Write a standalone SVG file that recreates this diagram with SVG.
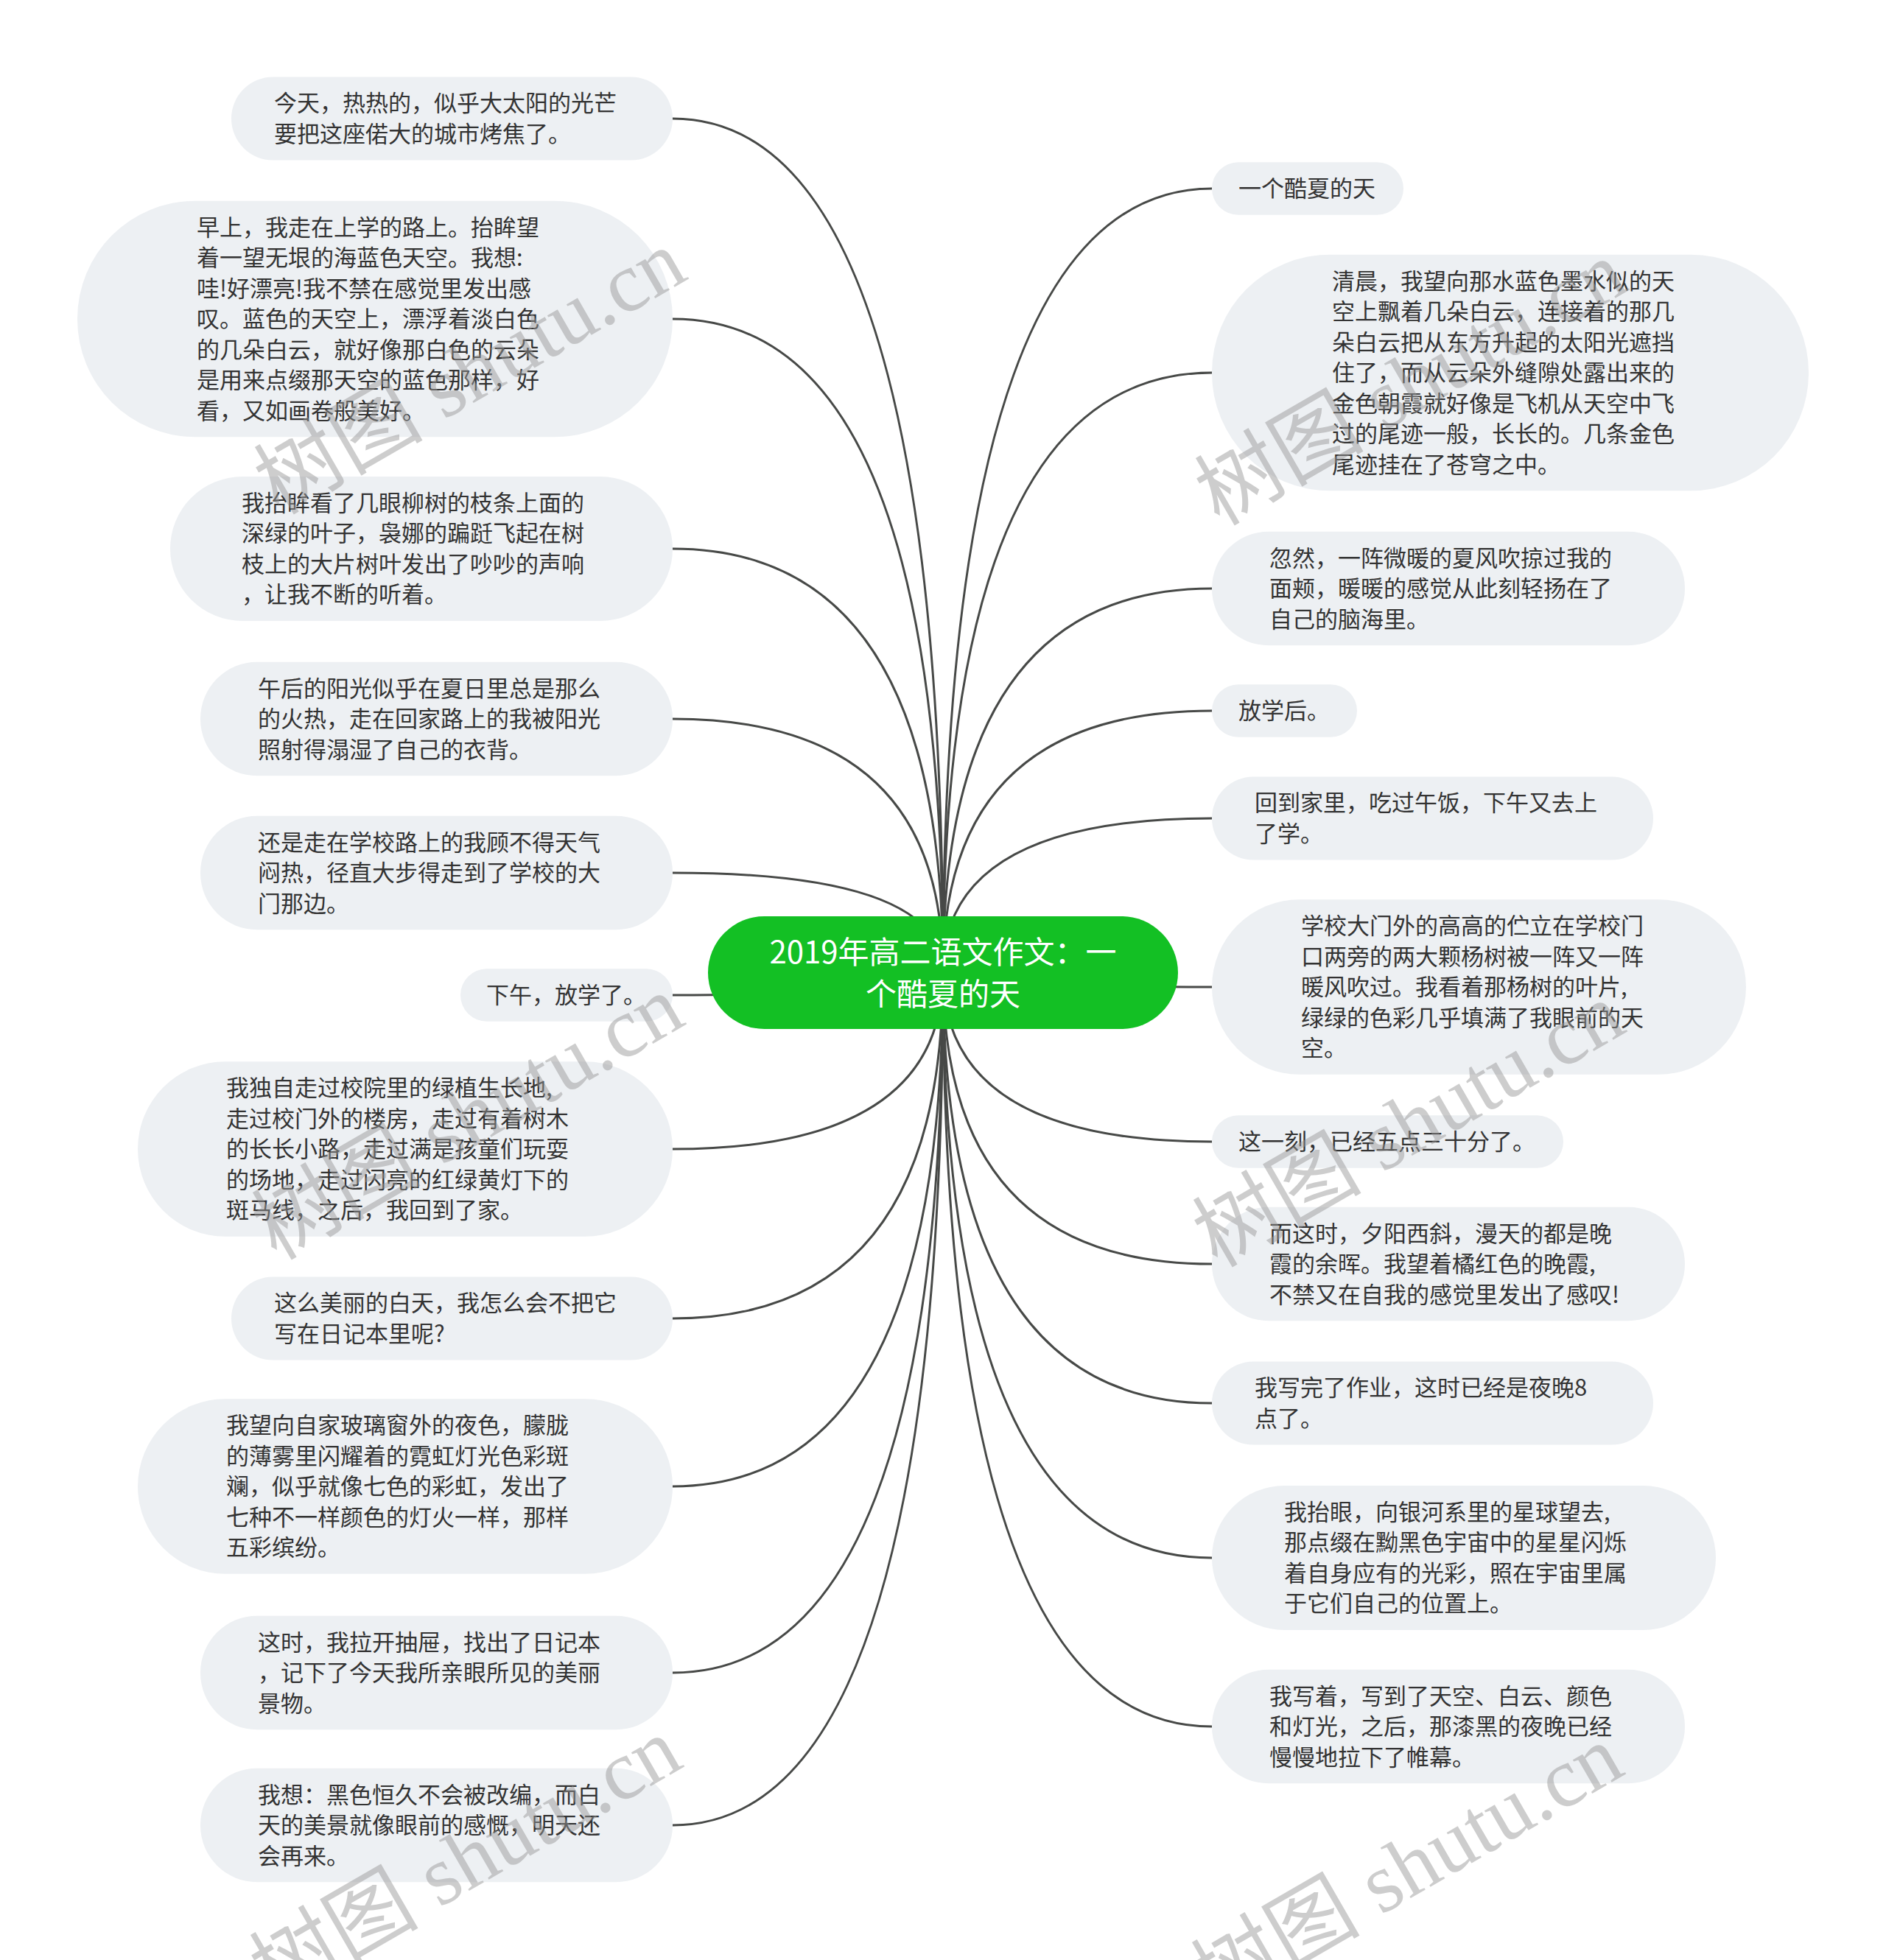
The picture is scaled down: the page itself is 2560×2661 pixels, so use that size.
<svg xmlns="http://www.w3.org/2000/svg" width="2560" height="2661" viewBox="0 0 2560 2661">
<style>
.bg{fill:#ffffff}
.node rect{fill:#edf0f3}
.node text{font-family:"Noto Sans CJK SC","Noto Sans",sans-serif;font-size:31px;fill:#333333}
.root rect{fill:#13c024}
.root text{font-family:"Noto Sans CJK SC","Noto Sans",sans-serif;font-size:42px;fill:#ffffff;text-anchor:middle}
.conn path{fill:none;stroke:#474947;stroke-width:3}
.wm{font-family:"Liberation Serif","Noto Sans CJK SC",serif;font-size:115px;fill:#969696;fill-opacity:0.48}
</style>
<rect class="bg" x="0" y="0" width="2560" height="2661"/>
<g id="connectors" class="conn">
<path d="M1280,1320 Q1280,161 913,161"/>
<path d="M1280,1320 Q1280,433 913,433"/>
<path d="M1280,1320 Q1280,745 913,745"/>
<path d="M1280,1320 Q1280,976 913,976"/>
<path d="M1280,1320 Q1280,1185 913,1185"/>
<path d="M1280,1320 Q1280,1351 913,1351"/>
<path d="M1280,1320 Q1280,1560 913,1560"/>
<path d="M1280,1320 Q1280,1790 913,1790"/>
<path d="M1280,1320 Q1280,2018 913,2018"/>
<path d="M1280,1320 Q1280,2271 913,2271"/>
<path d="M1280,1320 Q1280,2478 913,2478"/>
<path d="M1280,1320 Q1280,256 1645,256"/>
<path d="M1280,1320 Q1280,506 1645,506"/>
<path d="M1280,1320 Q1280,799 1645,799"/>
<path d="M1280,1320 Q1280,965 1645,965"/>
<path d="M1280,1320 Q1280,1111 1645,1111"/>
<path d="M1280,1320 Q1280,1340 1645,1340"/>
<path d="M1280,1320 Q1280,1550 1645,1550"/>
<path d="M1280,1320 Q1280,1716 1645,1716"/>
<path d="M1280,1320 Q1280,1905 1645,1905"/>
<path d="M1280,1320 Q1280,2115 1645,2115"/>
<path d="M1280,1320 Q1280,2344 1645,2344"/>
</g>
<g id="root" class="root">
<rect x="961" y="1244" width="638" height="153" rx="76.5"/>
<text x="1280" y="1308">2019年高二语文作文：一<tspan x="1280" dy="57">个酷夏的天</tspan></text>
</g>
<g id="L1" class="node"><rect x="314" y="104.5" width="599" height="113" rx="56.5"/>
<text x="372" y="151.25">今天，热热的，似乎大太阳的光芒<tspan x="372" dy="41.5">要把这座偌大的城市烤焦了。</tspan></text></g>
<g id="L2" class="node"><rect x="105" y="272.75" width="808" height="320.5" rx="160"/>
<text x="267" y="319.5">早上，我走在上学的路上。抬眸望<tspan x="267" dy="41.5">着一望无垠的海蓝色天空。我想:</tspan><tspan x="267" dy="41.5">哇!好漂亮!我不禁在感觉里发出感</tspan><tspan x="267" dy="41.5">叹。蓝色的天空上，漂浮着淡白色</tspan><tspan x="267" dy="41.5">的几朵白云，就好像那白色的云朵</tspan><tspan x="267" dy="41.5">是用来点缀那天空的蓝色那样，好</tspan><tspan x="267" dy="41.5">看，又如画卷般美好。</tspan></text></g>
<g id="L3" class="node"><rect x="231" y="647" width="682" height="196" rx="98"/>
<text x="328" y="693.75">我抬眸看了几眼柳树的枝条上面的<tspan x="328" dy="41.5">深绿的叶子，袅娜的蹁跹飞起在树</tspan><tspan x="328" dy="41.5">枝上的大片树叶发出了吵吵的声响</tspan><tspan x="328" dy="41.5">，让我不断的听着。</tspan></text></g>
<g id="L4" class="node"><rect x="272" y="898.75" width="641" height="154.5" rx="77"/>
<text x="350" y="945.5">午后的阳光似乎在夏日里总是那么<tspan x="350" dy="41.5">的火热，走在回家路上的我被阳光</tspan><tspan x="350" dy="41.5">照射得溻湿了自己的衣背。</tspan></text></g>
<g id="L5" class="node"><rect x="272" y="1107.75" width="641" height="154.5" rx="77"/>
<text x="350" y="1154.5">还是走在学校路上的我顾不得天气<tspan x="350" dy="41.5">闷热，径直大步得走到了学校的大</tspan><tspan x="350" dy="41.5">门那边。</tspan></text></g>
<g id="L6" class="node"><rect x="625" y="1315.25" width="288" height="71.5" rx="35.75"/>
<text x="660" y="1362">下午，放学了。</text></g>
<g id="L7" class="node"><rect x="187" y="1441.25" width="726" height="237.5" rx="118.75"/>
<text x="307" y="1488">我独自走过校院里的绿植生长地,<tspan x="307" dy="41.5">走过校门外的楼房，走过有着树木</tspan><tspan x="307" dy="41.5">的长长小路，走过满是孩童们玩耍</tspan><tspan x="307" dy="41.5">的场地，走过闪亮的红绿黄灯下的</tspan><tspan x="307" dy="41.5">斑马线，之后，我回到了家。</tspan></text></g>
<g id="L8" class="node"><rect x="314" y="1733.5" width="599" height="113" rx="56.5"/>
<text x="372" y="1780.25">这么美丽的白天，我怎么会不把它<tspan x="372" dy="41.5">写在日记本里呢?</tspan></text></g>
<g id="L9" class="node"><rect x="187" y="1899.25" width="726" height="237.5" rx="118.75"/>
<text x="307" y="1946">我望向自家玻璃窗外的夜色，朦胧<tspan x="307" dy="41.5">的薄雾里闪耀着的霓虹灯光色彩斑</tspan><tspan x="307" dy="41.5">斓，似乎就像七色的彩虹，发出了</tspan><tspan x="307" dy="41.5">七种不一样颜色的灯火一样，那样</tspan><tspan x="307" dy="41.5">五彩缤纷。</tspan></text></g>
<g id="L10" class="node"><rect x="272" y="2193.75" width="641" height="154.5" rx="77"/>
<text x="350" y="2240.5">这时，我拉开抽屉，找出了日记本<tspan x="350" dy="41.5">，记下了今天我所亲眼所见的美丽</tspan><tspan x="350" dy="41.5">景物。</tspan></text></g>
<g id="L11" class="node"><rect x="272" y="2400.75" width="641" height="154.5" rx="77"/>
<text x="350" y="2447.5">我想：黑色恒久不会被改编，而白<tspan x="350" dy="41.5">天的美景就像眼前的感慨，明天还</tspan><tspan x="350" dy="41.5">会再来。</tspan></text></g>
<g id="R1" class="node"><rect x="1645" y="220.25" width="260" height="71.5" rx="35.75"/>
<text x="1681" y="267">一个酷夏的天</text></g>
<g id="R2" class="node"><rect x="1645" y="345.75" width="810" height="320.5" rx="160"/>
<text x="1808" y="392.5">清晨，我望向那水蓝色墨水似的天<tspan x="1808" dy="41.5">空上飘着几朵白云，连接着的那几</tspan><tspan x="1808" dy="41.5">朵白云把从东方升起的太阳光遮挡</tspan><tspan x="1808" dy="41.5">住了，而从云朵外缝隙处露出来的</tspan><tspan x="1808" dy="41.5">金色朝霞就好像是飞机从天空中飞</tspan><tspan x="1808" dy="41.5">过的尾迹一般，长长的。几条金色</tspan><tspan x="1808" dy="41.5">尾迹挂在了苍穹之中。</tspan></text></g>
<g id="R3" class="node"><rect x="1645" y="721.75" width="642" height="154.5" rx="77"/>
<text x="1723" y="768.5">忽然，一阵微暖的夏风吹掠过我的<tspan x="1723" dy="41.5">面颊，暖暖的感觉从此刻轻扬在了</tspan><tspan x="1723" dy="41.5">自己的脑海里。</tspan></text></g>
<g id="R4" class="node"><rect x="1645" y="929.25" width="197" height="71.5" rx="35.75"/>
<text x="1681" y="976">放学后。</text></g>
<g id="R5" class="node"><rect x="1645" y="1054.5" width="599" height="113" rx="56.5"/>
<text x="1703" y="1101.25">回到家里，吃过午饭，下午又去上<tspan x="1703" dy="41.5">了学。</tspan></text></g>
<g id="R6" class="node"><rect x="1645" y="1221.25" width="725" height="237.5" rx="118.75"/>
<text x="1766" y="1268">学校大门外的高高的伫立在学校门<tspan x="1766" dy="41.5">口两旁的两大颗杨树被一阵又一阵</tspan><tspan x="1766" dy="41.5">暖风吹过。我看着那杨树的叶片,</tspan><tspan x="1766" dy="41.5">绿绿的色彩几乎填满了我眼前的天</tspan><tspan x="1766" dy="41.5">空。</tspan></text></g>
<g id="R7" class="node"><rect x="1645" y="1514.25" width="477" height="71.5" rx="35.75"/>
<text x="1681" y="1561">这一刻，已经五点三十分了。</text></g>
<g id="R8" class="node"><rect x="1645" y="1638.75" width="642" height="154.5" rx="77"/>
<text x="1723" y="1685.5">而这时，夕阳西斜，漫天的都是晚<tspan x="1723" dy="41.5">霞的余晖。我望着橘红色的晚霞,</tspan><tspan x="1723" dy="41.5">不禁又在自我的感觉里发出了感叹!</tspan></text></g>
<g id="R9" class="node"><rect x="1645" y="1848.5" width="599" height="113" rx="56.5"/>
<text x="1703" y="1895.25">我写完了作业，这时已经是夜晚8<tspan x="1703" dy="41.5">点了。</tspan></text></g>
<g id="R10" class="node"><rect x="1645" y="2017" width="684" height="196" rx="98"/>
<text x="1743" y="2063.75">我抬眼，向银河系里的星球望去,<tspan x="1743" dy="41.5">那点缀在黝黑色宇宙中的星星闪烁</tspan><tspan x="1743" dy="41.5">着自身应有的光彩，照在宇宙里属</tspan><tspan x="1743" dy="41.5">于它们自己的位置上。</tspan></text></g>
<g id="R11" class="node"><rect x="1645" y="2266.75" width="642" height="154.5" rx="77"/>
<text x="1723" y="2313.5">我写着，写到了天空、白云、颜色<tspan x="1723" dy="41.5">和灯光，之后，那漆黑的夜晚已经</tspan><tspan x="1723" dy="41.5">慢慢地拉下了帷幕。</tspan></text></g>
<g id="watermarks">
<text class="wm" transform="translate(378,700) rotate(-30)">树图 shutu.cn</text>
<text class="wm" transform="translate(1655,715) rotate(-30)">树图 shutu.cn</text>
<text class="wm" transform="translate(375,1712) rotate(-30)">树图 shutu.cn</text>
<text class="wm" transform="translate(1652,1722) rotate(-30)">树图 shutu.cn</text>
<text class="wm" transform="translate(372,2720) rotate(-30)">树图 shutu.cn</text>
<text class="wm" transform="translate(1650,2730) rotate(-30)">树图 shutu.cn</text>
</g>
</svg>
